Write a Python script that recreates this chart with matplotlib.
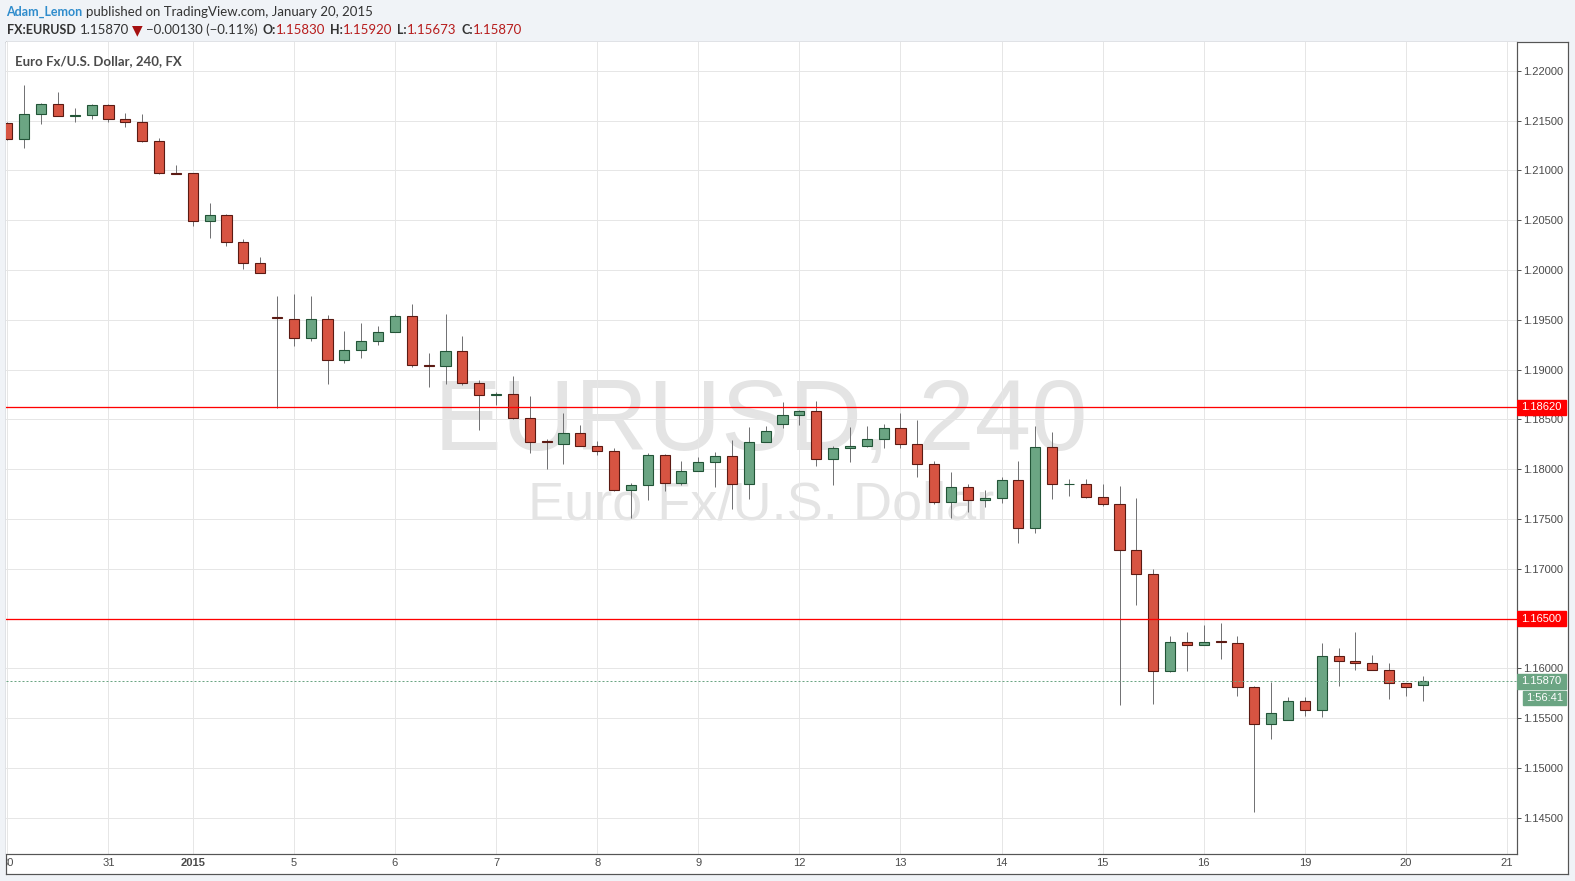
import numpy as np
import matplotlib.pyplot as plt
from matplotlib.patches import Rectangle
from matplotlib.transforms import Bbox, TransformedBbox

# EURUSD 240 min candles
opens = [1.2147, 1.2131, 1.2157, 1.2167, 1.2155, 1.2156, 1.2166, 1.2152, 1.2149, 1.2129,
         1.2097, 1.2097, 1.2049, 1.2055, 1.2028, 1.2007, 1.1953, 1.1951, 1.1932, 1.1951,
         1.1910, 1.1920, 1.1929, 1.1938, 1.1954, 1.1905, 1.1904, 1.1919, 1.1886, 1.1874,
         1.1875, 1.1851, 1.1828, 1.1825, 1.1836, 1.1823, 1.1818, 1.1779, 1.1784, 1.1814,
         1.1786, 1.1798, 1.1807, 1.1813, 1.1785, 1.1827, 1.1845, 1.1854, 1.1858, 1.1810,
         1.1821, 1.1823, 1.1830, 1.1841, 1.1825, 1.1805, 1.1767, 1.1782, 1.1769, 1.1771,
         1.1789, 1.1741, 1.1822, 1.1785, 1.1785, 1.1772, 1.1765, 1.1719, 1.1695, 1.1597,
         1.1626, 1.1623, 1.1627, 1.1625, 1.1581, 1.1544, 1.1548, 1.1567, 1.1558, 1.1612,
         1.1607, 1.1605, 1.1598, 1.1585, 1.1583]
highs = [1.2148, 1.2186, 1.2168, 1.2179, 1.2163, 1.2167, 1.2167, 1.2158, 1.2157, 1.2132,
         1.2105, 1.2097, 1.2067, 1.2056, 1.2031, 1.2013, 1.1974, 1.1976, 1.1974, 1.1955,
         1.1939, 1.1947, 1.1944, 1.1956, 1.1966, 1.1917, 1.1956, 1.1934, 1.1889, 1.1877,
         1.1893, 1.1873, 1.1830, 1.1856, 1.1844, 1.1828, 1.1821, 1.1786, 1.1816, 1.1815,
         1.1808, 1.1812, 1.1817, 1.1829, 1.1842, 1.1843, 1.1867, 1.1859, 1.1868, 1.1823,
         1.1842, 1.1843, 1.1845, 1.1856, 1.1849, 1.1808, 1.1797, 1.1785, 1.1779, 1.1792,
         1.1808, 1.1843, 1.1837, 1.1790, 1.1790, 1.1785, 1.1783, 1.1771, 1.1700, 1.1632,
         1.1636, 1.1643, 1.1645, 1.1632, 1.1582, 1.1586, 1.1571, 1.1571, 1.1625, 1.1620,
         1.1636, 1.1613, 1.1605, 1.1585, 1.1592]
lows = [1.2130, 1.2122, 1.2146, 1.2155, 1.2149, 1.2152, 1.2149, 1.2143, 1.2128, 1.2096,
        1.2096, 1.2044, 1.2032, 1.2024, 1.2001, 1.1997, 1.1861, 1.1924, 1.1929, 1.1885,
        1.1907, 1.1912, 1.1925, 1.1938, 1.1903, 1.1882, 1.1885, 1.1884, 1.1839, 1.1864,
        1.1850, 1.1816, 1.1800, 1.1805, 1.1823, 1.1814, 1.1778, 1.1751, 1.1769, 1.1778,
        1.1784, 1.1798, 1.1782, 1.1760, 1.1770, 1.1827, 1.1841, 1.1844, 1.1803, 1.1784,
        1.1807, 1.1822, 1.1821, 1.1821, 1.1792, 1.1765, 1.1751, 1.1757, 1.1762, 1.1766,
        1.1726, 1.1736, 1.1770, 1.1773, 1.1771, 1.1763, 1.1563, 1.1664, 1.1564, 1.1596,
        1.1597, 1.1623, 1.1609, 1.1572, 1.1456, 1.1529, 1.1548, 1.1552, 1.1551, 1.1582,
        1.1598, 1.1598, 1.1569, 1.1572, 1.15673]
closes = [1.2131, 1.2157, 1.2167, 1.2155, 1.2156, 1.2166, 1.2152, 1.2149, 1.2129, 1.2097,
          1.2096, 1.2049, 1.2055, 1.2028, 1.2007, 1.1997, 1.1952, 1.1932, 1.1951, 1.1910,
          1.1920, 1.1929, 1.1938, 1.1954, 1.1905, 1.1904, 1.1919, 1.1886, 1.1874, 1.1875,
          1.1851, 1.1827, 1.1827, 1.1836, 1.1823, 1.1818, 1.1779, 1.1784, 1.1814, 1.1786,
          1.1798, 1.1807, 1.1813, 1.1785, 1.1827, 1.1838, 1.1854, 1.1858, 1.1810, 1.1821,
          1.1823, 1.1830, 1.1841, 1.1825, 1.1805, 1.1767, 1.1782, 1.1769, 1.1771, 1.1789,
          1.1741, 1.1822, 1.1785, 1.1785, 1.1772, 1.1765, 1.1719, 1.1695, 1.1597, 1.1626,
          1.1623, 1.1626, 1.1626, 1.1581, 1.1544, 1.1555, 1.1567, 1.1558, 1.1612, 1.1607,
          1.1605, 1.1598, 1.1585, 1.1581, 1.1587]

# day labels and the candle index where each day starts
day_ticks = [0, 6, 11, 17, 23, 29, 35, 41, 47, 53, 59, 65, 71, 77, 83, 89]
day_labels = ['30', '31', '2015', '5', '6', '7', '8', '9', '12', '13', '14', '15',
              '16', '19', '20', '21']

price_ticks = [1.145, 1.150, 1.155, 1.160, 1.165, 1.170, 1.175, 1.180, 1.185, 1.190,
               1.195, 1.200, 1.205, 1.210, 1.215, 1.220]
level_lines = [1.1862, 1.1650]
last_price = 1.1587
countdown = '1:56:41'

W, H = 1575, 881
UP, DOWN = '#6ba583', '#d75442'
UP_EDGE, DOWN_EDGE = '#225437', '#5b1a13'
WICK = '#737375'
AXC = '#555555'
LBL = '#4a4a4a'
PX = 0.72  # one pixel in points


def box(x0, y0, x1, y1):
    # pixel box (top-left origin) -> figure fraction rect
    return [x0 / W, 1 - y1 / H, (x1 - x0) / W, (y1 - y0) / H]


fig = plt.figure(figsize=(W / 100, H / 100), dpi=100, facecolor='#f0f3f7')

# outer frame of the chart panel
frame = fig.add_axes(box(6, 42, 1568, 874))
frame.set_facecolor('white')
frame.set_xticks([])
frame.set_yticks([])
for s in frame.spines.values():
    s.set_color(AXC)
    s.set_linewidth(PX * 1.2)

ax = fig.add_axes(box(6, 42, 1516.5, 853.5))
ax.set_facecolor('white')
ylo, yhi = 1.141406, 1.222882
ax.set_xlim(-0.083, 89.56)
ax.set_ylim(ylo, yhi)
for side in ['left', 'top']:
    ax.spines[side].set_visible(False)
for side in ['right', 'bottom']:
    ax.spines[side].set_color(AXC)
    ax.spines[side].set_linewidth(PX * 1.2)

ax.set_axisbelow(True)
ax.grid(True, color='#e6e6e6', linewidth=PX)
ax.yaxis.tick_right()
ax.set_yticks(price_ticks)
ax.set_yticklabels([f'{v:.5f}' for v in price_ticks])
ax.tick_params(axis='y', length=4 * PX, width=PX, color=AXC, pad=2,
               labelsize=8, labelcolor=LBL)
ax.set_xticks(day_ticks)
ax.set_xticklabels(day_labels)
ax.tick_params(axis='x', length=0, pad=3, labelsize=8, labelcolor=LBL)
for t in ax.get_xticklabels() + ax.get_yticklabels():
    t.set_fontfamily('Liberation Sans')
ax.get_xticklabels()[2].set_fontweight('bold')
# the first day label is cut by the panel's left edge
clip = TransformedBbox(Bbox([[6 / W, 0], [1, 1]]), fig.transFigure)
ax.get_xticklabels()[0].set_clip_box(clip)
ax.get_xticklabels()[0].set_clip_on(True)

# watermark
ax.text(0.5, 0.4972, 'EURUSD, 240', transform=ax.transAxes, ha='center', va='baseline',
        fontsize=73, color='#e4e4e4', family='Liberation Sans', zorder=0.2)
ax.text(0.5, 0.4118, 'Euro Fx/U.S. Dollar', transform=ax.transAxes, ha='center',
        va='baseline', fontsize=39, color='#e4e4e4', family='Liberation Sans', zorder=0.2)

# candles
o = np.array(opens)
c = np.array(closes)
x = np.arange(len(o))
up = c >= o
body_lo = np.minimum(o, c)
body_h = np.maximum(np.abs(c - o), 0.00002)
ax.vlines(x, lows, highs, color=WICK, linewidth=PX, zorder=2)
ax.bar(x, body_h, bottom=body_lo, width=0.6,
       color=np.where(up, UP, DOWN), edgecolor=np.where(up, UP_EDGE, DOWN_EDGE),
       linewidth=PX * 1.1, zorder=3)

for lv in level_lines:
    ax.axhline(lv, color='#ff0000', linewidth=PX * 1.3, zorder=4)
ax.axhline(last_price, color=UP, linewidth=PX, linestyle=(0, (2, 2)), zorder=4)

# price scale labels for the lines
pax = fig.add_axes(box(1516.5, 42, 1568, 853.5))
pax.set_xlim(0, 51.5)
pax.set_ylim(ylo, yhi)
pax.axis('off')
pax.patch.set_visible(False)
hpx = (yhi - ylo) / 811.5
for lv in level_lines:
    pax.add_patch(Rectangle((0.2, lv - 7.5 * hpx), 49, 15 * hpx, color='#ff0000'))
    pax.text(25, lv, f'{lv:.5f}', color='white', ha='center', va='center', fontsize=8,
             family='Liberation Sans')
pax.add_patch(Rectangle((0.2, last_price - 7.5 * hpx), 49, 15 * hpx, color=UP))
pax.text(25, last_price, f'{last_price:.5f}', color='white', ha='center', va='center',
         fontsize=8, family='Liberation Sans')
ty = last_price - 17 * hpx
pax.add_patch(Rectangle((6.2, ty - 7.2 * hpx), 43, 14.4 * hpx, color=UP))
pax.text(27.7, ty, countdown, color='white', ha='center', va='center', fontsize=8,
         family='Liberation Sans')

# header, pieces laid out one after another
hdr = ['Lato', 'DejaVu Sans']
red = '#b71c1c'
dark = '#333333'
renderer = fig.canvas.get_renderer()


def line(xp, yp, pieces):
    for gap, s, kw in pieces:
        xp += gap
        kw = dict(kw)
        size = kw.pop('size', 9.5)
        t = fig.text(xp / W, 1 - yp / H, s, ha='left', va='baseline', family=hdr,
                     fontsize=size, **kw)
        xp = t.get_window_extent(renderer).x1


bold = dict(color=dark, fontweight='bold', size=9)
line(6, 16, [(0, 'Adam_Lemon', dict(color='#2f8ccc', fontweight='bold', size=9)),
             (4, 'published on TradingView.com, January 20, 2015', dict(color=dark))])
line(7, 34.3, [(0, 'FX:EURUSD', bold),
               (4, '1.15870', dict(color=dark)),
               (3, '\u25bc', dict(color='#a51010', size=10)),
               (3, '\u22120.00130 (\u22120.11%)', dict(color=dark)),
               (5, 'O:', bold), (0, '1.15830', dict(color=red)),
               (5, 'H:', bold), (0, '1.15920', dict(color=red)),
               (5, 'L:', bold), (0, '1.15673', dict(color=red)),
               (5, 'C:', bold), (0, '1.15870', dict(color=red))])

fig.text(15 / W, 1 - 65 / H, 'Euro Fx/U.S. Dollar, 240, FX', ha='left', va='baseline',
         family=hdr, fontsize=9.5, color=LBL, fontweight='bold')

fig.savefig('out.png', dpi=100, facecolor=fig.get_facecolor())
